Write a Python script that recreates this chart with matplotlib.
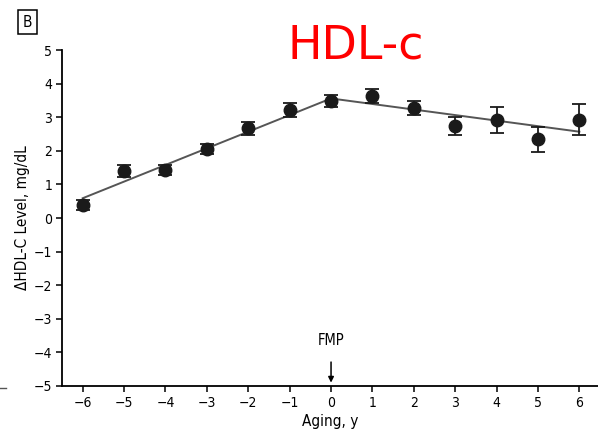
import matplotlib
matplotlib.use("Agg")
import matplotlib.pyplot as plt
import numpy as np

plt.rcParams['font.family'] = ['DejaVu Sans']
plt.rcParams['font.stretch'] = 'condensed'

years = [-6, -5, -4, -3, -2, -1, 0, 1, 2, 3, 4, 5, 6]
hdl = [0.39, 1.40, 1.43, 2.05, 2.67, 3.21, 3.49, 3.63, 3.28, 2.74, 2.92, 2.34, 2.92]
err = [0.15, 0.18, 0.15, 0.15, 0.20, 0.20, 0.17, 0.20, 0.20, 0.28, 0.40, 0.38, 0.46]
fit_x = [-6, 0, 6]
fit_y = [0.59, 3.56, 2.57]
xticks = list(range(-6, 7))
yticks = list(range(-5, 6))

fig = plt.figure(figsize=(5.98, 4.42), dpi=100)
ax = fig.add_axes([0.1037, 0.1267, 0.8963, 0.760])

ax.plot(fit_x, fit_y, color='#555555', lw=1.4, zorder=2)
ax.errorbar(years, hdl, yerr=err, fmt='o', color='#1a1a1a', ms=9,
            ecolor='#1a1a1a', elinewidth=1.3, capsize=5, capthick=1.3, zorder=3)

ax.set_xlim(-6.5, 6.45)
ax.set_ylim(-5, 5)
ax.set_xticks(xticks)
ax.set_xticklabels([str(v).replace('-', '\u2212') for v in xticks])
ax.set_yticks(yticks)
ax.set_yticklabels([str(v).replace('-', '\u2212') for v in yticks])
for s in ['top', 'right']:
    ax.spines[s].set_visible(False)
for s in ['left', 'bottom']:
    ax.spines[s].set_linewidth(1.3)
ax.tick_params(axis='both', direction='out', length=4, width=1.1, labelsize=10, pad=3)
ax.set_xlabel('Aging, y', fontsize=11, labelpad=3)
ax.set_ylabel('\u0394HDL-C Level, mg/dL', fontsize=11, labelpad=3)

ax.annotate('FMP', xy=(0, -4.9), xytext=(0, -3.65), ha='center', va='center',
            fontsize=10.5,
            arrowprops=dict(arrowstyle='-|>', color='black', lw=1.1,
                            mutation_scale=8, shrinkA=8, shrinkB=0))

fig.text(0.595, 0.897, 'HDL-c', color='red', fontsize=33, ha='center', va='center',
         family=['DejaVu Sans'], stretch='normal')
fig.text(0.046, 0.95, 'B', fontsize=11, ha='center', va='center',
         bbox=dict(boxstyle='square,pad=0.3', fc='white', ec='black', lw=1.1))
fig.lines.append(plt.Line2D([0.0, 0.01], [0.122, 0.122], color='#555555', lw=1,
                            transform=fig.transFigure))

fig.savefig('out.png', dpi=100)
